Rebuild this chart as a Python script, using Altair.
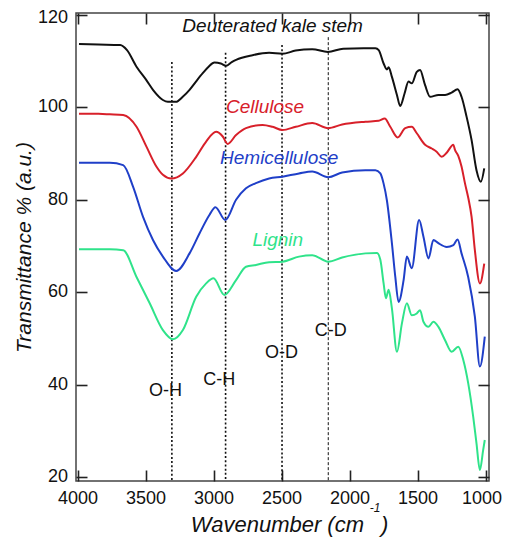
import altair as alt
import pandas as pd

# ---- data ----
black_x = [3993, 3850, 3690, 3640, 3570, 3500, 3449, 3376, 3340, 3280, 3230, 3180, 3130, 3083, 3040, 2997, 2950, 2912, 2870, 2838,
           2717, 2595, 2497, 2400, 2278, 2163, 2050, 1900, 1813, 1789, 1753, 1729, 1716, 1692, 1655, 1631, 1599, 1570, 1546, 1509,
           1485, 1448, 1411, 1350, 1301, 1253, 1209, 1180, 1143, 1106, 1070, 1038, 1013]
black_y = [113.7, 113.6, 113.5, 112.4, 108.8, 106.0, 103.8, 101.6, 101.2, 101.2, 102.3, 103.8, 105.7, 107.4, 108.8, 109.7, 109.5, 109.0, 109.8, 110.3,
           111.3, 111.8, 111.6, 112.3, 112.6, 112.0, 112.7, 112.8, 112.8, 112.4, 109.5, 108.2, 108.7, 106.6, 102.7, 100.3, 103.0, 105.6, 105.2, 107.7,
           108.1, 104.8, 102.3, 102.7, 102.7, 103.2, 103.9, 102.3, 98.0, 92.9, 86.4, 83.9, 86.8]

red_x = [3993, 3850, 3766, 3668, 3570, 3497, 3424, 3376, 3314, 3229, 3131, 3058, 2985, 2936, 2900, 2838, 2765, 2643, 2570, 2497,
         2399, 2278, 2160, 2058, 1887, 1789, 1745, 1704, 1650, 1594, 1546, 1509, 1448, 1399, 1363, 1326, 1289, 1240, 1228, 1204,
         1180, 1155, 1131, 1106, 1082, 1045, 1013]
red_y = [98.6, 98.6, 98.5, 98.35, 95.8, 91.5, 87.2, 85.4, 84.6, 85.7, 89.3, 92.6, 94.7, 93.7, 92.1, 94.0, 95.5, 96.2, 95.8, 95.1,
         95.8, 96.6, 95.5, 96.3, 96.9, 97.1, 97.6, 95.8, 93.5, 95.5, 95.8, 94.4, 91.9, 91.1, 90.4, 89.3, 90.2, 91.9, 90.8, 89.5,
         87.2, 83.6, 80.5, 76.3, 69.1, 61.9, 66.2]

blue_x = [3993, 3850, 3766, 3668, 3595, 3522, 3449, 3376, 3278, 3180, 3107, 3034, 2990, 2917, 2838, 2765, 2692, 2595, 2497, 2375,
          2278, 2160, 2058, 1887, 1813, 1777, 1753, 1729, 1692, 1667, 1643, 1606, 1582, 1546, 1492, 1460, 1423, 1387, 1350, 1289,
          1240, 1209, 1180, 1131, 1082, 1045, 1009]
blue_y = [88.0, 88.0, 88.0, 87.5, 82.8, 76.3, 71.3, 67.7, 64.6, 68.4, 72.7, 76.7, 78.4, 75.6, 80.0, 82.5, 83.6, 84.6, 85.0, 85.7,
          86.1, 84.9, 85.9, 86.4, 86.4, 85.7, 83.5, 79.9, 70.6, 63.3, 57.9, 62.6, 67.7, 65.2, 75.6, 72.0, 67.3, 71.3, 70.6, 69.8,
          70.2, 71.4, 68.4, 63.3, 54.7, 43.9, 50.4]

green_x = [3993, 3850, 3766, 3668, 3570, 3473, 3376, 3302, 3229, 3131, 3058, 3004, 2924, 2838, 2765, 2692, 2595, 2497, 2375, 2278,
           2160, 2058, 1887, 1802, 1777, 1753, 1736, 1716, 1692, 1655, 1618, 1582, 1546, 1509, 1485, 1460, 1423, 1387, 1350, 1301,
           1253, 1204, 1167, 1131, 1094, 1070, 1045, 1021, 1009]
green_y = [69.3, 69.3, 69.3, 69.1, 63.3, 57.6, 51.8, 49.8, 51.8, 59.0, 61.9, 63.0, 59.4, 62.6, 65.5, 65.9, 66.5, 66.6, 67.7, 68.0,
           66.6, 67.5, 68.4, 68.5, 67.0, 61.9, 58.7, 60.5, 56.5, 47.1, 53.3, 57.6, 55.0, 55.4, 56.1, 53.6, 52.5, 53.6, 52.5, 49.6,
           47.1, 48.2, 45.3, 40.3, 33.0, 27.3, 21.5, 25.8, 28.0]

series_names = ["Deuterated kale stem", "Cellulose", "Hemicellulose", "Lignin"]
series_colors = ["#111111", "#d8202a", "#1f3fc8", "#2fe38a"]

# series labels
label_x = [2569, 2625, 2521, 2531]
label_y = [117.6, 100.0, 89.0, 71.3]

# band markers
band_x = [3310, 2915, 2500, 2160]
band_top = [109.8, 111.8, 113.5, 115.2]
band_text = ["O-H", "C-H", "O-D", "C-D"]
band_text_x = [3356, 2961, 2503, 2141]
band_text_y = [38.7, 41.0, 46.9, 51.5]

x_ticks = [4000, 3500, 3000, 2500, 2000, 1500, 1000]
y_ticks = [20, 40, 60, 80, 100, 120]

# x-axis title pieces (main text, superscript, closing bracket)
xtitle_text = ["Wavenumber (cm", "-1", ")"]
xtitle_x = [1897, 1816, 1772]
xtitle_y = [8.1, 12.4, 8.1]

X_DOMAIN = [978, 4015]
Y_DOMAIN = [19.13, 120.43]
W, H = 413, 468
FONT = "Liberation Sans"

# ---- tables ----
rows = []
for name, xs, ys in zip(series_names, [black_x, red_x, blue_x, green_x], [black_y, red_y, blue_y, green_y]):
    for i, (a, b) in enumerate(zip(xs, ys)):
        rows.append({"series": name, "wn": a, "t": b, "idx": i})
spectra = pd.DataFrame(rows)

labels = pd.DataFrame({"series": series_names, "wn": label_x, "t": label_y})
bands = pd.DataFrame({"wn": band_x, "top": band_top, "bottom": [Y_DOMAIN[0]] * 4})
band_labels = pd.DataFrame({"wn": band_text_x, "t": band_text_y, "text": band_text})
xtitle = pd.DataFrame({"wn": xtitle_x, "t": xtitle_y, "text": xtitle_text})
xlab = pd.DataFrame({"wn": x_ticks, "t": [Y_DOMAIN[0]] * len(x_ticks), "text": [str(v) for v in x_ticks]})
ylab = pd.DataFrame({"wn": [X_DOMAIN[1]] * len(y_ticks), "t": y_ticks, "text": [str(v) for v in y_ticks]})

xscale = alt.Scale(domain=X_DOMAIN, reverse=True, nice=False, zero=False)
yscale = alt.Scale(domain=Y_DOMAIN, nice=False, zero=False)
cscale = alt.Scale(domain=series_names, range=series_colors)

# inward ticks: axes pulled 11px into the plot, ticks pointing back to the frame
tick_axis = dict(labels=False, domain=False, grid=False, ticks=True, tickSize=11, tickWidth=1.6,
                 tickColor="#222", offset=-11)
x_bottom = alt.Axis(values=x_ticks, title=None, orient="bottom", **tick_axis)
y_left = alt.Axis(values=y_ticks, title="Transmittance % (a.u.)", orient="left", titlePadding=41,
                  titleFont=FONT, titleFontSize=21, titleFontStyle="italic", titleFontWeight="normal",
                  titleColor="#111", **tick_axis)
x_top = alt.Axis(values=x_ticks, title=None, orient="top", **tick_axis)
y_right = alt.Axis(values=y_ticks, title=None, orient="right", **tick_axis)

lines = alt.Chart(spectra).mark_line(strokeWidth=2, interpolate="monotone").encode(
    x=alt.X("wn:Q", scale=xscale, axis=x_bottom),
    y=alt.Y("t:Q", scale=yscale, axis=y_left),
    color=alt.Color("series:N", scale=cscale, legend=None),
    order=alt.Order("idx:Q"),
    detail="series:N",
)

dotted = alt.Chart(bands.iloc[:3]).mark_rule(strokeDash=[2, 2.2], strokeWidth=1.6, color="#111").encode(
    x=alt.X("wn:Q", scale=xscale, axis=x_top),
    y=alt.Y("top:Q", scale=yscale, axis=y_right),
    y2="bottom:Q")
dashed = alt.Chart(bands.iloc[3:]).mark_rule(strokeDash=[3, 2], strokeWidth=1, color="#111").encode(
    x=alt.X("wn:Q", axis=None), y=alt.Y("top:Q", axis=None), y2="bottom:Q")

series_text = alt.Chart(labels).mark_text(font=FONT, fontSize=19, fontStyle="italic", baseline="middle", align="center").encode(
    x=alt.X("wn:Q", axis=None), y=alt.Y("t:Q", axis=None), text="series:N",
    color=alt.Color("series:N", scale=cscale, legend=None))

band_txt = alt.Chart(band_labels).mark_text(font=FONT, fontSize=18, baseline="middle", align="center", color="#111").encode(
    x=alt.X("wn:Q", axis=None), y=alt.Y("t:Q", axis=None), text="text:N")

# tick labels
lab_style = dict(font=FONT, fontSize=18, color="#111")
def txt(df, **kw):
    return alt.Chart(df).mark_text(**kw).encode(
        x=alt.X("wn:Q", axis=None), y=alt.Y("t:Q", axis=None), text="text:N")

xlab_main = txt(xlab.iloc[:-1], align="center", baseline="top", dy=9, **lab_style)
xlab_last = txt(xlab.iloc[-1:], align="center", baseline="top", dy=9, dx=-4, **lab_style)
ylab_main = txt(ylab.iloc[:-1], align="right", baseline="middle", dx=-8, **lab_style)
ylab_top = txt(ylab.iloc[-1:], align="right", baseline="middle", dx=-8, dy=3, **lab_style)

xt_main = txt(xtitle.iloc[[0]], font=FONT, fontSize=22, fontStyle="italic", align="right", baseline="alphabetic", color="#111")
xt_sup = txt(xtitle.iloc[[1]], font=FONT, fontSize=12, fontStyle="italic", align="center", baseline="alphabetic", color="#111")
xt_close = txt(xtitle.iloc[[2]], font=FONT, fontSize=22, fontStyle="italic", align="left", baseline="alphabetic", color="#111")

chart = alt.layer(
    dotted, dashed, lines, series_text, band_txt,
    xlab_main, xlab_last, ylab_main, ylab_top, xt_main, xt_sup, xt_close
).resolve_axis(
    x="independent", y="independent"
).properties(
    width=W, height=H,
    autosize=alt.AutoSizeParams(type="none"),
    padding={"left": 68, "top": 5, "right": 13, "bottom": 60},
    background="white",
).configure_view(
    stroke="#444", strokeWidth=1.5
)

chart.save("out.html", embed_options={"renderer": "svg", "actions": False})
